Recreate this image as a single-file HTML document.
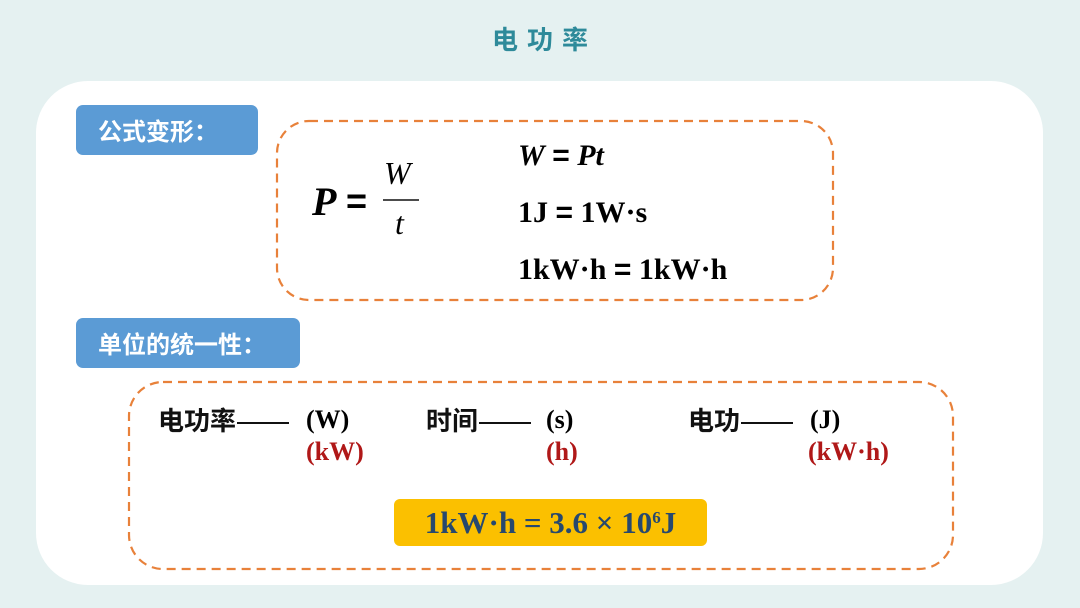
<!DOCTYPE html>
<html><head><meta charset="utf-8"><style>
body{margin:0;width:1080px;height:608px;background:#e5f1f1;position:relative;overflow:hidden;font-family:"Liberation Sans","Noto Sans CJK SC",sans-serif}
.a{position:absolute}
.title{left:0;width:1080px;top:20px;text-align:center;color:#2e8a9a;font-weight:bold;font-size:26px;letter-spacing:9px;padding-left:9px;box-sizing:border-box;font-family:"Noto Sans CJK SC",sans-serif}
.panel{left:36px;top:81px;width:1007px;height:504px;background:#fff;border-radius:52px}
.lab{background:#5b9bd5;color:#fff;font-weight:bold;font-size:24px;border-radius:7px;line-height:50px;box-sizing:border-box;padding-left:22px;font-family:"Noto Sans CJK SC",sans-serif}
.serif{font-family:"Liberation Serif","Noto Serif CJK SC",serif;font-weight:bold}
.cjk{font-family:"Noto Sans CJK SC",sans-serif;font-weight:bold;font-size:26px;color:#111;line-height:30px}
.d{display:inline-block;width:52px;height:2px;background:#111;vertical-align:middle;margin-left:1px}
.u{font-size:26px;line-height:30px}
.red{color:#b01818}
</style></head><body>
<div class="a title">电功率</div>
<div class="a panel"></div>
<div class="a lab" style="left:76px;top:105px;width:182px;height:50px">公式变形：</div>
<div class="a lab" style="left:76px;top:318px;width:224px;height:50px">单位的统一性：</div>
<svg class="a" style="left:0;top:0" width="1080" height="608">
<rect x="277" y="121" width="556" height="179" rx="32" fill="none" stroke="#e8813a" stroke-width="2.2" stroke-dasharray="9,6"/>
<rect x="129" y="382" width="824" height="187" rx="34" fill="none" stroke="#e8813a" stroke-width="2.2" stroke-dasharray="9,6"/>
<line x1="383" y1="200" x2="419" y2="200" stroke="#111" stroke-width="1.5"/>
</svg>
<div class="a serif" style="left:312px;top:178px;font-size:40px;font-style:italic">P</div>
<div class="a" style="left:346px;top:180px;font-size:36px;font-weight:bold">=</div>
<div class="a" style="left:384px;top:155px;font-family:'Liberation Serif',serif;font-style:italic;font-size:32px">W</div>
<div class="a" style="left:395px;top:205px;font-family:'Liberation Serif',serif;font-style:italic;font-size:32px">t</div>
<div class="a serif" style="left:518px;top:139px;font-size:30px"><i>W</i> <span style="font-family:'Liberation Sans'">=</span> <i>Pt</i></div>
<div class="a serif" style="left:518px;top:196px;font-size:30px">1J <span style="font-family:'Liberation Sans'">=</span> 1W·s</div>
<div class="a serif" style="left:518px;top:253px;font-size:30px">1kW·h <span style="font-family:'Liberation Sans'">=</span> 1kW·h</div>
<div class="a cjk" style="left:158px;top:405px">电功率<span class="d"></span></div>
<div class="a serif u" style="left:306px;top:405px">(W)</div>
<div class="a serif u red" style="left:306px;top:437px">(kW)</div>
<div class="a cjk" style="left:426px;top:405px">时间<span class="d"></span></div>
<div class="a serif u" style="left:546px;top:405px">(s)</div>
<div class="a serif u red" style="left:546px;top:437px">(h)</div>
<div class="a cjk" style="left:688px;top:405px">电功<span class="d"></span></div>
<div class="a serif u" style="left:810px;top:405px">(J)</div>
<div class="a serif u red" style="left:808px;top:437px">(kW·h)</div>
<div class="a serif" style="left:394px;top:499px;width:313px;height:47px;background:#fbc000;border-radius:6px;color:#27486e;font-size:31px;line-height:47px;text-align:center">1kW·h = 3.6 × 10<sup style="font-size:17px;vertical-align:10px;line-height:0">6</sup>J</div>
</body></html>
